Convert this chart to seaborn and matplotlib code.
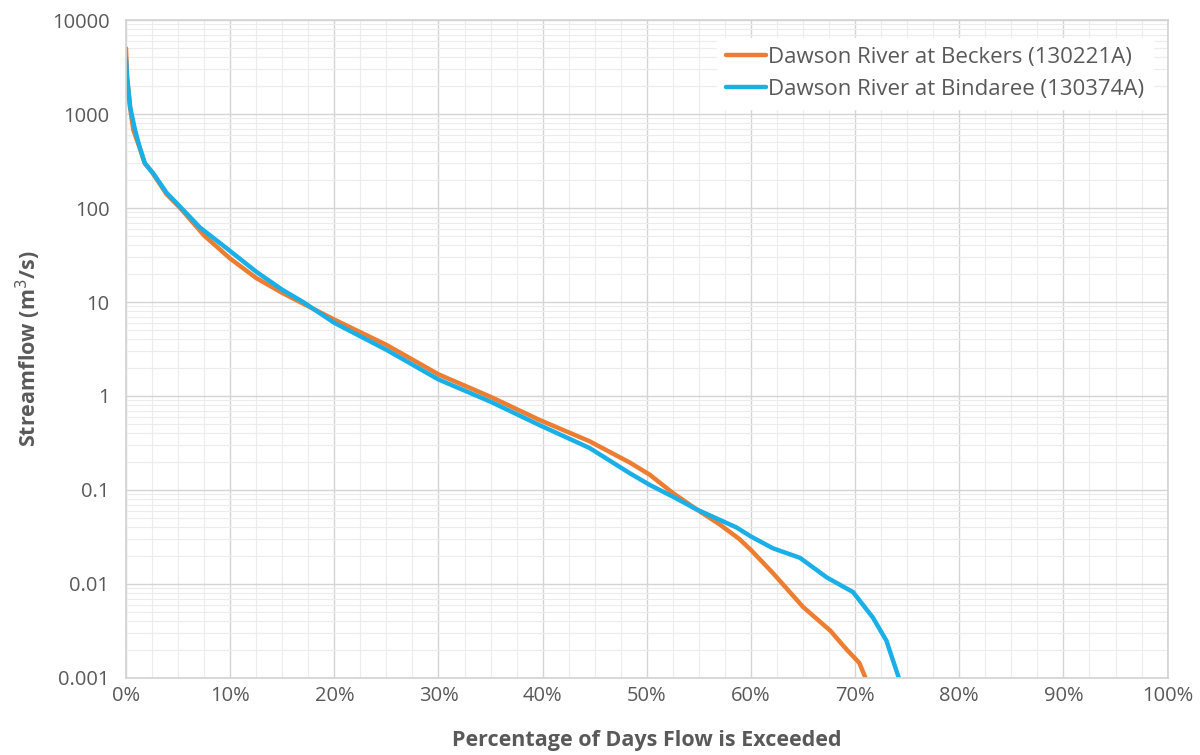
import numpy as np
import pandas as pd
import seaborn as sns
import matplotlib.pyplot as plt
from matplotlib.ticker import FixedLocator, LogLocator, NullFormatter, FuncFormatter

sns.set_theme(style='white')
plt.rcParams['font.family'] = ['Open Sans', 'DejaVu Sans']

# flow duration curves
beckers_pct = [0, 0.1, 0.4, 0.7, 1.3, 1.8, 2.5, 3.9, 5.2, 7.5, 10, 12.5, 15, 17.5,
               20, 25, 30, 35, 39.7, 44.5, 48.4, 50.3, 52.5, 54.8, 57, 58.9, 60,
               62.1, 65, 67.6, 69.2, 70.4, 71.0]
beckers_flow = [5000, 2500, 1150, 680, 440, 300, 240, 140, 100, 51, 29, 18, 12.5, 9,
                6.5, 3.5, 1.7, 0.98, 0.556, 0.33, 0.195, 0.145, 0.093, 0.062, 0.043,
                0.03, 0.023, 0.0131, 0.0057, 0.0032, 0.002, 0.00145, 0.001]

bindaree_pct = [0, 0.1, 0.4, 0.86, 1.3, 1.8, 2.6, 3.9, 5.2, 7.1, 9.7, 12.5, 15, 17,
                20, 25, 30, 35, 39.7, 44.5, 48.4, 50.3, 52.5, 54.8, 58.6, 60, 62.1,
                64.7, 67.3, 69.8, 71.7, 73.0, 74.2]
bindaree_flow = [3900, 2500, 1180, 680, 450, 300, 235, 145, 103, 62, 37, 21, 13.5, 10,
                 6, 3.1, 1.5, 0.87, 0.49, 0.28, 0.15, 0.113, 0.085, 0.062, 0.04,
                 0.032, 0.024, 0.019, 0.0117, 0.0082, 0.0044, 0.0025, 0.001]

orange = '#ED7D31'
blue = '#1AAFE6'
grey = '#595959'

fig = plt.figure(figsize=(12, 7.55), dpi=100)
ax = fig.add_axes([0.105, 0.102, 0.868, 0.8715])

sns.lineplot(x=beckers_pct, y=beckers_flow, sort=False, color=orange, linewidth=3.2,
             label='Dawson River at Beckers (130221A)', ax=ax)
sns.lineplot(x=bindaree_pct, y=bindaree_flow, sort=False, color=blue, linewidth=3.2,
             label='Dawson River at Bindaree (130374A)', ax=ax)

ax.set_yscale('log')
ax.set_ylim(0.001, 10000)
ax.set_xlim(0, 100)

ax.xaxis.set_major_locator(FixedLocator(np.arange(0, 101, 10)))
ax.xaxis.set_minor_locator(FixedLocator(np.arange(0, 101, 2.5)))
ax.xaxis.set_major_formatter(FuncFormatter(lambda v, p: f'{v:.0f}%'))
ax.xaxis.set_minor_formatter(NullFormatter())

ax.yaxis.set_major_locator(LogLocator(base=10, numticks=20))
ax.yaxis.set_minor_locator(LogLocator(base=10, subs=np.arange(2, 10), numticks=20))
ax.yaxis.set_minor_formatter(NullFormatter())
ax.yaxis.set_major_formatter(FuncFormatter(lambda v, p: f'{v:g}'))

ax.grid(which='major', color='#d4d4d4', linewidth=1)
ax.grid(which='minor', color='#ececec', linewidth=0.8)
ax.set_axisbelow(True)
for s in ax.spines.values():
    s.set_color('#d4d4d4')

ax.tick_params(axis='both', which='both', length=0, labelsize=14.5, colors=grey)
ax.tick_params(axis='y', pad=12)
ax.tick_params(axis='x', pad=6)

ax.set_xlabel('Percentage of Days Flow is Exceeded', fontsize=15.5, fontweight='bold',
              color=grey, labelpad=17)
ax.set_ylabel('Streamflow (m$^3$/s)', fontsize=15.5, fontweight='bold', color=grey,
              labelpad=6)

leg = ax.legend(loc='upper right', bbox_to_anchor=(0.997, 0.99), fontsize=16,
                frameon=True, fancybox=False, handlelength=1.8, handletextpad=0.1,
                labelspacing=0.5, labelcolor=grey)
leg.get_frame().set_facecolor('white')
leg.get_frame().set_edgecolor('white')
leg.get_frame().set_alpha(1)

fig.savefig('out.png', dpi=100)
